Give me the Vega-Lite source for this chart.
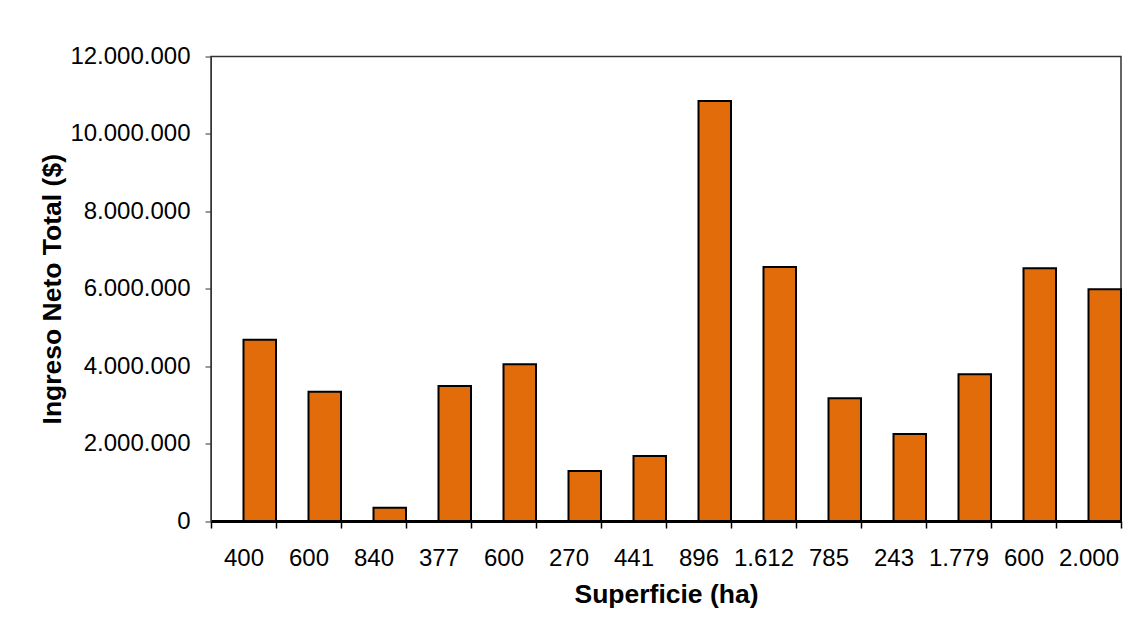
{
  "$schema": "https://vega.github.io/schema/vega-lite/v6.json",
  "width": 910,
  "height": 464.5,
  "autosize": {"type": "none"},
  "padding": {"left": 211, "top": 56.5, "right": 16, "bottom": 119},
  "background": "white",
  "data": {
    "values": [
      {"superficie": "400", "serie": "b", "ingreso": 4680000},
      {"superficie": "600", "serie": "b", "ingreso": 3340000},
      {"superficie": "840", "serie": "b", "ingreso": 340000},
      {"superficie": "377", "serie": "b", "ingreso": 3490000},
      {"superficie": "600_2", "serie": "b", "ingreso": 4050000},
      {"superficie": "270", "serie": "b", "ingreso": 1290000},
      {"superficie": "441", "serie": "b", "ingreso": 1680000},
      {"superficie": "896", "serie": "b", "ingreso": 10850000},
      {"superficie": "1.612", "serie": "b", "ingreso": 6560000},
      {"superficie": "785", "serie": "b", "ingreso": 3170000},
      {"superficie": "243", "serie": "b", "ingreso": 2250000},
      {"superficie": "1.779", "serie": "b", "ingreso": 3790000},
      {"superficie": "600_3", "serie": "b", "ingreso": 6530000},
      {"superficie": "2.000", "serie": "b", "ingreso": 5990000}
    ]
  },
  "mark": {"type": "bar", "fill": "#E36C0A", "stroke": "#000000", "strokeWidth": 2},
  "encoding": {
    "x": {
      "field": "superficie",
      "type": "nominal",
      "sort": null,
      "scale": {"paddingInner": 0, "paddingOuter": 0},
      "axis": {
        "title": "Superficie (ha)",
        "labelAngle": 0,
        "labelExpr": "isValid(datum.value) ? split(datum.value, '_')[0] : ''",
        "tickBand": "extent",
        "domainColor": "#000000",
        "domainWidth": 3,
        "tickColor": "#000000",
        "tickWidth": 1.5,
        "tickSize": 7,
        "labelPadding": 18,
        "labelFont": "Liberation Sans",
        "labelFontSize": 24,
        "labelColor": "#000000",
        "titleFont": "Liberation Sans",
        "titleFontSize": 26.5,
        "titleFontWeight": "bold",
        "titleColor": "#000000",
        "titlePadding": 11
      }
    },
    "xOffset": {
      "field": "serie",
      "type": "nominal",
      "scale": {"domain": ["a", "b"], "paddingInner": 0, "paddingOuter": 0}
    },
    "y": {
      "field": "ingreso",
      "type": "quantitative",
      "scale": {"domain": [0, 12000000], "nice": false},
      "axis": {
        "title": "Ingreso Neto Total ($)",
        "values": [0, 2000000, 4000000, 6000000, 8000000, 10000000, 12000000],
        "format": ",d",
        "grid": false,
        "domainColor": "#333333",
        "domainWidth": 1,
        "tickColor": "#333333",
        "tickSize": 6,
        "labelPadding": 15,
        "labelFont": "Liberation Sans",
        "labelFontSize": 24,
        "labelColor": "#000000",
        "titleFont": "Liberation Sans",
        "titleFontSize": 26.5,
        "titleFontWeight": "bold",
        "titleColor": "#000000",
        "titlePadding": 3
      }
    }
  },
  "config": {
    "locale": {
      "number": {"decimal": ",", "thousands": ".", "grouping": [3], "currency": ["$", ""]}
    },
    "view": {"stroke": "#333333", "strokeWidth": 1.5}
  }
}
